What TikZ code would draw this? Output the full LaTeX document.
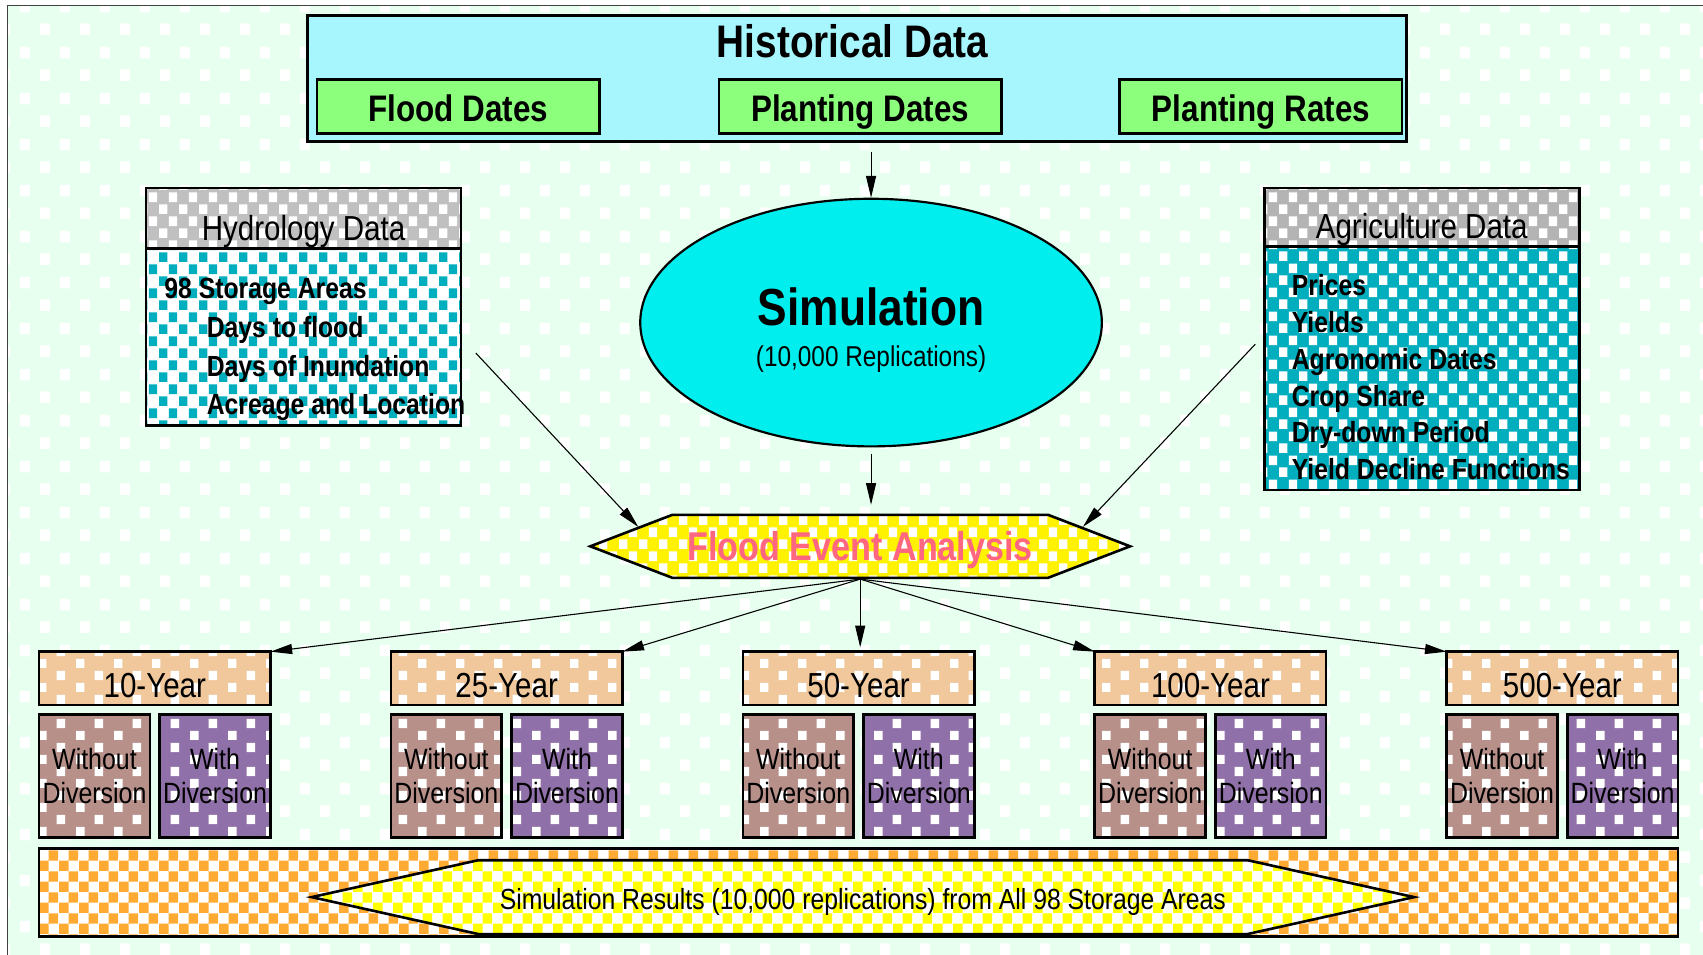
\documentclass[tikz,border=0pt]{standalone}
\usepackage{fontspec}
\setmainfont{Liberation Sans}[FakeStretch=0.85]
\usetikzlibrary{arrows.meta,patterns,shapes.geometric,shapes.symbols,positioning}

\definecolor{bgmint}{HTML}{E6FFEE}
\definecolor{histcyan}{HTML}{A8F6FD}
\definecolor{datagreen}{HTML}{8CFF7C}
\definecolor{simcyan}{HTML}{00EEEE}
\definecolor{headgray}{HTML}{C0C0C0}
\definecolor{agrigray}{HTML}{B4B4B4}
\definecolor{dotteal}{HTML}{00AEBE}
\definecolor{peach}{HTML}{F0C89C}
\definecolor{rosybrown}{HTML}{B8908A}
\definecolor{divpurple}{HTML}{9070A8}
\definecolor{checkorange}{HTML}{FFAA33}
\definecolor{eventpink}{HTML}{FF6680}

% square dot patterns
\pgfdeclarepatternformonly{bgdots}{\pgfpointorigin}{\pgfqpoint{18.4pt}{21.2pt}}{\pgfqpoint{18.4pt}{21.2pt}}{
  \pgfpathrectangle{\pgfpointorigin}{\pgfqpoint{4.6pt}{5.4pt}}
  \pgfpathrectangle{\pgfqpoint{9.2pt}{10.6pt}}{\pgfqpoint{4.6pt}{5.4pt}}
  \pgfusepath{fill}}
\pgfdeclarepatternformonly{boxdots}{\pgfpointorigin}{\pgfqpoint{17.5pt}{11pt}}{\pgfqpoint{17.5pt}{11pt}}{
  \pgfpathrectangle{\pgfpointorigin}{\pgfqpoint{4pt}{4.2pt}}
  \pgfpathrectangle{\pgfqpoint{8.75pt}{5.5pt}}{\pgfqpoint{4pt}{4.2pt}}
  \pgfusepath{fill}}
\pgfdeclarepatternformonly{densedots}{\pgfpointorigin}{\pgfqpoint{9.2pt}{11pt}}{\pgfqpoint{9.2pt}{11pt}}{
  \pgfpathrectangle{\pgfpointorigin}{\pgfqpoint{3.8pt}{4.4pt}}
  \pgfpathrectangle{\pgfqpoint{4.6pt}{5.5pt}}{\pgfqpoint{3.8pt}{4.4pt}}
  \pgfusepath{fill}}
\pgfdeclarepatternformonly{checks}{\pgfpointorigin}{\pgfqpoint{9pt}{9.8pt}}{\pgfqpoint{9pt}{9.8pt}}{
  \pgfpathrectangle{\pgfpointorigin}{\pgfqpoint{4.5pt}{4.9pt}}
  \pgfpathrectangle{\pgfqpoint{4.5pt}{4.9pt}}{\pgfqpoint{4.5pt}{4.9pt}}
  \pgfusepath{fill}}

\tikzset{
  box/.style={draw=black, line width=1.2pt, inner sep=0pt, outer sep=0pt},
  greenbox/.style={box, fill=datagreen, minimum width=130pt, minimum height=25pt,
    text height=14.2pt, text depth=0pt, font=\bfseries\fontsize{17}{20}\selectfont},
  headbox/.style={box, preaction={fill=#1}, pattern=densedots, pattern color=white,
    minimum width=145pt, text height=20pt, text depth=0pt,
    font=\fontsize{16}{19}\selectfont},
  yearbox/.style={box, preaction={fill=peach}, pattern=boxdots, pattern color=white,
    minimum width=106.5pt, minimum height=24.5pt, text height=17.5pt, text depth=0pt,
    font=\fontsize{16}{19}\selectfont},
  divbox/.style={box, preaction={fill=#1}, pattern=boxdots, pattern color=white,
    minimum width=51pt, minimum height=56.5pt, align=center,
    font=\fontsize{13.5}{16}\selectfont},
  listtext/.style={inner sep=0pt, align=left, anchor=north west},
  arr/.style={-{Triangle[length=10pt,width=4.6pt]}, line width=0.5pt},
}

\begin{document}
\begin{tikzpicture}[x=0.5pt,y=-0.5pt]
  \useasboundingbox (0,0) rectangle (1568,879);
  % Background
  \fill[bgmint] (7,5) rectangle (1568,879);
  \fill[pattern=bgdots, pattern color=white] (7,5) rectangle (1568,879);
  \draw[black!75, line width=0.6pt] (7,879) -- (7,5) -- (1568,5);

  % Historical data
  \node[box, fill=histcyan, minimum width=506pt, minimum height=58pt] (hist) at (789,72) {};
  \node[font=\bfseries\fontsize{21}{25}\selectfont] (histtitle) at (785,38) {Historical Data};
  \node[greenbox] (flood) at (422,98) {Flood Dates};
  \node[greenbox] (plantd) at (792,98) {Planting Dates};
  \node[greenbox] (plantr) at (1161,98) {Planting Rates};

  % Simulation
  \node[ellipse, draw=black, line width=1pt, fill=simcyan, minimum width=212.5pt,
    minimum height=114pt, inner sep=0pt, align=center, text height=43pt,
    font=\fontsize{13.2}{19}\selectfont] (sim) at (802,297)
    {{\bfseries\fontsize{24}{19}\selectfont Simulation}\\(10,000 Replications)};

  % Hydrology and agriculture
  \node[headbox=headgray, minimum height=28pt] (hydhead) at (279.5,201) {Hydrology Data};
  \node[box, preaction={fill=white}, pattern=densedots, pattern color=dotteal,
    minimum width=145pt, minimum height=81.5pt, below=0pt of hydhead] (hydbody) {};
  \node[listtext, font=\bfseries\fontsize{13.4}{17.8}\selectfont] (hydlist) at (151,256)
    {98 Storage Areas\\\hspace*{19.5pt}Days to flood\\\hspace*{19.5pt}Days of Inundation\\\hspace*{19.5pt}Acreage and Location};

  \node[headbox=agrigray, minimum height=27pt] (agrihead) at (1309,200) {Agriculture Data};
  \node[box, preaction={fill=dotteal}, pattern=densedots, pattern color=white,
    minimum width=145pt, minimum height=112pt, below=0pt of agrihead] (agribody) {};
  \node[listtext, font=\bfseries\fontsize{13.4}{17}\selectfont] (agrilist) at (1189,252)
    {Prices\\Yields\\Agronomic Dates\\Crop Share\\Dry-down Period\\Yield Decline Functions};

  % Flood event analysis
  \node[signal, signal to=west and east, signal pointer angle=42, draw=black,
    line width=1.2pt, preaction={fill=yellow}, pattern=densedots, pattern color=white,
    minimum width=248.5pt, minimum height=29pt, inner sep=0pt, text=eventpink,
    text height=13.2pt, text depth=0pt,
    font=\bfseries\fontsize{18.5}{22}\selectfont] (fea) at (792,503) {Flood Event Analysis};

  % Return periods
  \foreach \yr [count=\i from 0] in {10,25,50,100,500} {
    \pgfmathsetmacro{\xl}{36+324*\i}
    \node[yearbox] (y\yr) at (\xl+106.5,624.5) {\yr-Year};
    \node[divbox=rosybrown] (wo\yr) at (\xl+51,714.5) {Without\\Diversion};
    \node[divbox=divpurple] (wi\yr) at (\xl+162,714.5) {With\\Diversion};
  }

  % Results
  \node[box, preaction={fill=white}, pattern=checks, pattern color=checkorange,
    minimum width=754.5pt, minimum height=40.5pt] (resbar) at (790.5,821.5) {};
  \node[signal, signal to=west and east, signal pointer angle=25, draw=black,
    line width=1.2pt, preaction={fill=white}, pattern=checks, pattern color=yellow,
    minimum width=507.5pt, minimum height=34pt, inner sep=0pt,
    text height=11.6pt, text depth=0pt,
    font=\fontsize{13.4}{16}\selectfont] (resarrow) at (794.5,826)
    {Simulation Results (10,000 replications) from All 98 Storage Areas};

  % Arrows
  \draw[arr, shorten <=5pt] (sim.north |- hist.south) -- (sim.north);
  \draw[arr, shorten <=10pt] (hydbody.east) -- (fea.175);
  \draw[arr, shorten <=6pt] (agribody.168) -- (fea.5);
  \draw[arr, shorten <=3pt, shorten >=4pt] (sim.south) -- (sim.south |- fea.north);
  \draw[arr] (fea.south) -- (y10.north east);
  \draw[arr] (fea.south) -- (y25.north east);
  \draw[arr, shorten >=2pt] (fea.south) -- (fea.south |- y50.north);
  \draw[arr] (fea.south) -- (y100.north west);
  \draw[arr] (fea.south) -- (y500.north west);
\end{tikzpicture}
\end{document}
